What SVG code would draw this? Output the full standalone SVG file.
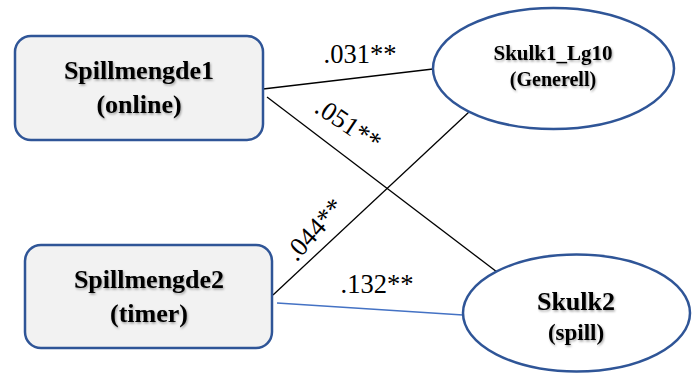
<svg xmlns="http://www.w3.org/2000/svg" width="699" height="373" viewBox="0 0 699 373">
<defs>
<filter id="sh" x="-10%" y="-30%" width="120%" height="160%">
<feDropShadow dx="1" dy="1.5" stdDeviation="0.8" flood-color="#000" flood-opacity="0.35"/>
</filter>
</defs>
<style>
.box{fill:#f2f2f2;stroke:#2f5597;stroke-width:2.5}
.ell{fill:#fff;stroke:#2f5597;stroke-width:2.5}
.nt{font-family:"Liberation Serif","Times New Roman",serif;font-weight:bold;fill:#000;text-anchor:middle;filter:url(#sh)}
.lbl{font-family:"Liberation Serif","Times New Roman",serif;font-size:26.5px;fill:#000;text-anchor:middle}
.ln{stroke:#000;stroke-width:1.3;fill:none}
.bl{stroke:#4472c4;stroke-width:1.3;fill:none}
</style>
<rect width="699" height="373" fill="#fff"/>
<g id="connectors">
<line class="ln" x1="263" y1="89" x2="433" y2="69"/>
<line class="ln" x1="267" y1="97" x2="497" y2="272"/>
<line class="ln" x1="273" y1="295" x2="469" y2="112"/>
<line class="bl" x1="277" y1="303" x2="463" y2="315"/>
<text class="lbl" x="360" y="63">.031**</text>
<text class="lbl" transform="translate(348,125) rotate(34)" x="0" y="8">.051**</text>
<text class="lbl" transform="translate(315,230) rotate(-48)" x="0" y="8">.044**</text>
<text class="lbl" x="377" y="293">.132**</text>
</g>
<g id="spillmengde1">
<rect class="box" x="15" y="36" width="248" height="104" rx="16"/>
<text class="nt" x="139" y="79" font-size="26">Spillmengde1</text>
<text class="nt" x="139" y="113" font-size="26">(online)</text>
</g>
<g id="spillmengde2">
<rect class="box" x="25" y="245" width="247" height="103" rx="16"/>
<text class="nt" x="149" y="288" font-size="26">Spillmengde2</text>
<text class="nt" x="149" y="322" font-size="26">(timer)</text>
</g>
<g id="skulk1">
<ellipse class="ell" cx="553.5" cy="68.5" rx="120.5" ry="60.5"/>
<text class="nt" x="553" y="60" font-size="21">Skulk1_Lg10</text>
<text class="nt" x="553" y="86" font-size="20">(Generell)</text>
</g>
<g id="skulk2">
<ellipse class="ell" cx="576.5" cy="313" rx="113.5" ry="58.5"/>
<text class="nt" x="576" y="310" font-size="26">Skulk2</text>
<text class="nt" x="576" y="340" font-size="23">(spill)</text>
</g>
</svg>
